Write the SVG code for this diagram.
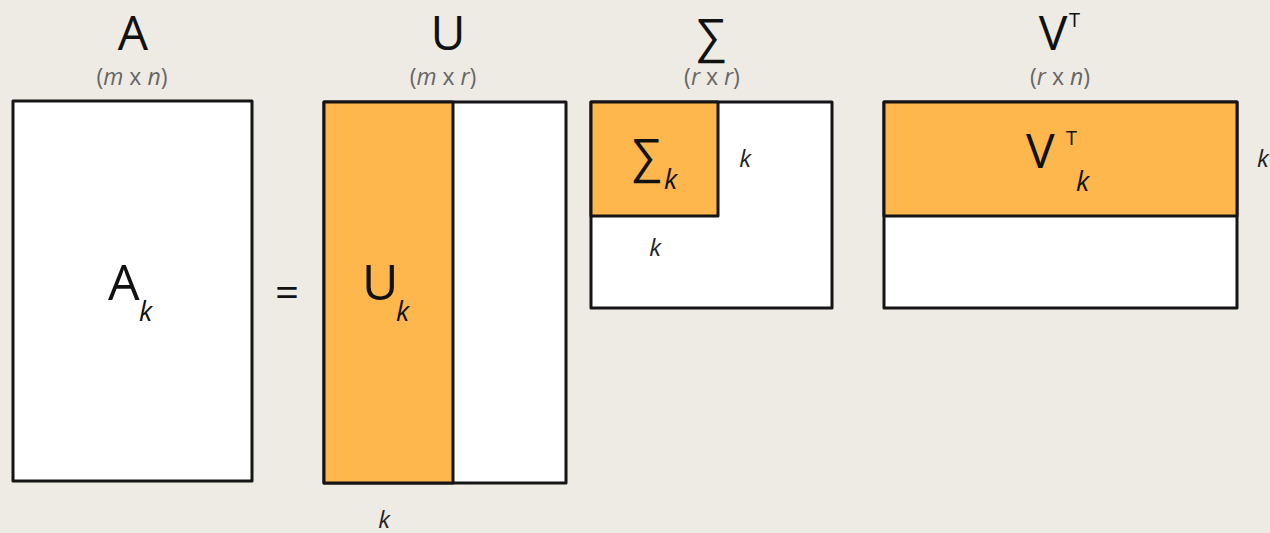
<svg xmlns="http://www.w3.org/2000/svg" width="1270" height="533" viewBox="0 0 1270 533">
<style>
.bg{fill:#EEEBE4}
.box{stroke:#151515;stroke-width:3;stroke-linejoin:round}
.w{fill:#FFFFFF}
.o{fill:#FDB74D}
.t{font-family:"Open Sans","DejaVu Sans",sans-serif;fill:#111}
.big{font-size:48px}
.sub{font-size:23px;fill:#666}
.k{font-size:27px;font-style:italic}
.kl{font-size:24px;font-style:italic;fill:#222}
.i{font-style:italic}
</style>
<rect class="bg" x="0" y="0" width="1270" height="533"/>
<g id="A">
<text class="t big" x="133" y="50" text-anchor="middle">A</text>
<text class="t sub" x="132" y="85" text-anchor="middle">(<tspan class="i">m</tspan> x <tspan class="i">n</tspan>)</text>
<rect class="box w" x="13" y="101" width="239" height="380"/>
<text class="t" style="font-size:50px" x="108" y="300">A</text>
<text class="t k" x="139" y="321">k</text>
</g>
<g id="eq">
<text class="t" style="font-size:42px" x="287" y="307" text-anchor="middle">=</text>
</g>
<g id="U">
<text class="t big" x="448" y="50" text-anchor="middle">U</text>
<text class="t sub" x="443" y="85" text-anchor="middle">(<tspan class="i">m</tspan> x <tspan class="i">r</tspan>)</text>
<rect class="box w" x="324" y="102" width="242" height="381"/>
<rect class="box o" x="324" y="102" width="129" height="381"/>
<text class="t" style="font-size:50px" x="362" y="300">U</text>
<text class="t k" x="396" y="321">k</text>
<text class="t kl" x="384" y="528" text-anchor="middle">k</text>
</g>
<g id="S">
<text class="t" style="font-size:46px" x="711" y="52" text-anchor="middle">∑</text>
<text class="t sub" x="712" y="85" text-anchor="middle">(<tspan class="i">r</tspan> x <tspan class="i">r</tspan>)</text>
<rect class="box w" x="591" y="102" width="241" height="206"/>
<rect class="box o" x="591" y="102" width="127" height="114"/>
<text class="t" style="font-size:46px" x="632" y="172">∑</text>
<text class="t k" x="664" y="189">k</text>
<text class="t kl" x="745" y="167" text-anchor="middle">k</text>
<text class="t kl" x="655" y="256" text-anchor="middle">k</text>
</g>
<g id="VT">
<text class="t big" x="1053" y="50" text-anchor="middle">V</text>
<text class="t" style="font-size:20px" x="1069" y="27">T</text>
<text class="t sub" x="1060" y="85" text-anchor="middle">(<tspan class="i">r</tspan> x <tspan class="i">n</tspan>)</text>
<rect class="box w" x="884" y="102" width="353" height="206"/>
<rect class="box o" x="884" y="102" width="353" height="114"/>
<text class="t" style="font-size:48px" x="1026" y="168">V</text>
<text class="t" style="font-size:20px" x="1066" y="145">T</text>
<text class="t k" x="1076" y="191">k</text>
<text class="t kl" x="1257" y="167">k</text>
</g>
</svg>
